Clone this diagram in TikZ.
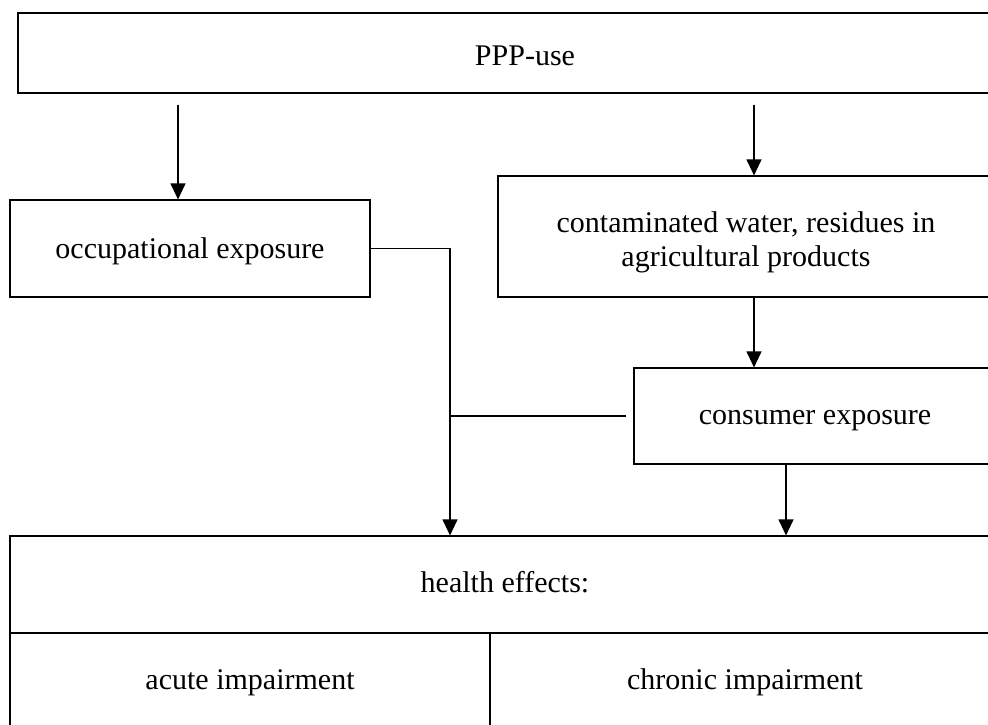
\documentclass[tikz,border=0pt]{standalone}
\usepackage{fontspec}
\setmainfont{Liberation Serif}
\usetikzlibrary{arrows.meta}

\begin{document}
\begin{tikzpicture}[x=1pt,y=-1pt,>={Triangle[width=15pt,length=16pt]},
    every node/.style={font=\fontsize{30}{34}\selectfont},
    box/.style={draw,line width=1.2pt,rectangle,inner sep=0pt,align=center},
    conn/.style={line width=1.2pt}]
    \useasboundingbox (0,0) rectangle (988,724);
    \clip (0,0) rectangle (988,724);

    \node[box,minimum width=1014pt,minimum height=80pt,text height=24pt,text depth=0pt] (ppp) at (525,53) {PPP-use};
    \node[box,minimum width=360pt,minimum height=97pt,text height=26pt,text depth=6pt] (occ) at (190,248.5) {occupational exposure};
    \node[box,minimum width=496pt,minimum height=121pt,text height=64pt,text depth=4pt] (cont) at (746,236.5)
        {contaminated water, residues in\\agricultural products};
    \node[box,minimum width=362pt,minimum height=96pt,text height=22pt,text depth=6pt] (cons) at (815,416) {consumer exposure};

    % health effects table
    \node[box,minimum width=990pt,minimum height=97pt,text height=20pt,text depth=5pt] (hlth) at (505,584.5) {health effects:};
    \node[box,minimum width=480pt,minimum height=95pt,text height=24pt,text depth=6pt] (acute) at (250,680.5) {acute impairment};
    \node[box,minimum width=510pt,minimum height=95pt,text height=24pt,text depth=6pt] (chron) at (745,680.5) {chronic impairment};

    \coordinate (c1) at (178,0);
    \coordinate (c2) at (754,0);
    \coordinate (c3) at (786,0);
    \coordinate (j) at (450,0);

    \draw[conn,->,shorten <=11pt] (ppp.south -| c1) -- (occ.north -| c1);
    \draw[conn,->,shorten <=11pt] (ppp.south -| c2) -- (cont.north -| c2);
    \draw[conn,->] (cont.south -| c2) -- (cons.north -| c2);
    \draw[conn,->] (occ.east) -| (hlth.north -| j);
    \draw[conn,shorten <=7pt] (cons.west) -- (cons.west -| j);
    \draw[conn,->] (cons.south -| c3) -- (hlth.north -| c3);
\end{tikzpicture}
\end{document}
